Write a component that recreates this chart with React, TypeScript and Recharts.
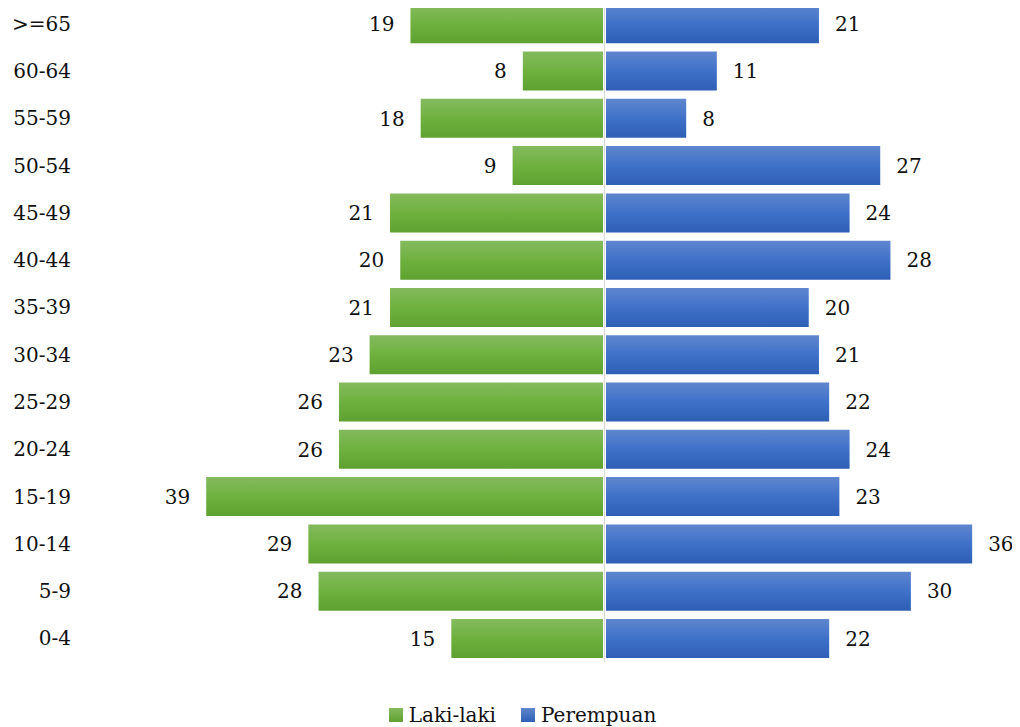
import React from "react";
import {
    Bar,
    BarChart,
    LabelList,
    Legend,
    ReferenceLine,
    XAxis,
    YAxis
} from "recharts";

// age groups, top of the pyramid first
const ageGroups = [
    ">=65", "60-64", "55-59", "50-54", "45-49", "40-44", "35-39",
    "30-34", "25-29", "20-24", "15-19", "10-14", "5-9", "0-4"
];
const lakiLaki = [19, 8, 18, 9, 21, 20, 21, 23, 26, 26, 39, 29, 28, 15];
const perempuan = [21, 11, 8, 27, 24, 28, 20, 21, 22, 24, 23, 36, 30, 22];
const xDomain = [-40, 40];

const FONT = "'DejaVu Serif', 'Liberation Serif', serif";
const TEXT = "#111111";

// male values go left of zero, so negate them for the chart
const data = ageGroups.map((age, i) => ({
    age,
    male: -lakiLaki[i],
    maleAbs: lakiLaki[i],
    female: perempuan[i],
    femaleAbs: perempuan[i]
}));

const makeLabel = (side: "left" | "right") => (props: any) => {
    const vb = props.viewBox ?? props;
    const x = Number(vb.x);
    const w = Number(vb.width);
    const y = Number(vb.y);
    const h = Number(vb.height);
    const left = Math.min(x, x + w);
    const right = Math.max(x, x + w);
    return (
        <text
            x={side === "left" ? left - 16 : right + 16}
            y={y + h / 2}
            dy="0.36em"
            textAnchor={side === "left" ? "end" : "start"}
            fontSize={20}
            fontFamily={FONT}
            fill={TEXT}
        >
            {props.value}
        </text>
    );
};

const legendItems = [
    { name: "Laki-laki", swatch: "linear-gradient(#84ba5e, #5fa130)" },
    { name: "Perempuan", swatch: "linear-gradient(#5f86ce, #2e5fb5)" }
];

const LegendBox = () => (
    <div
        style={{
            height: 65,
            boxSizing: "border-box",
            paddingTop: 40,
            paddingLeft: 32,
            display: "flex",
            justifyContent: "center",
            fontFamily: FONT,
            fontSize: 20,
            color: TEXT,
            lineHeight: "22px"
        }}
    >
        {legendItems.map((item, i) => (
            <div key={item.name} style={{ display: "flex", alignItems: "center", marginRight: i === 0 ? 25 : 0 }}>
                <span style={{ width: 14, height: 14, background: item.swatch, marginRight: 6, display: "inline-block" }} />
                <span>{item.name}</span>
            </div>
        ))}
    </div>
);

export default function App() {
    return (
        <div style={{ margin: "-8px 0 0 -8px", width: 1020, height: 727 }}>
            <BarChart
                width={1020}
                height={727}
                data={data}
                layout="vertical"
                stackOffset="sign"
                barCategoryGap="9%"
                margin={{ top: 0, right: 7, bottom: 0, left: 0 }}
            >
                <defs>
                    <linearGradient id="gradMale" x1="0" y1="0" x2="0" y2="1">
                        <stop offset="0%" stopColor="#84ba5e" />
                        <stop offset="50%" stopColor="#6fb13f" />
                        <stop offset="100%" stopColor="#5fa130" />
                    </linearGradient>
                    <linearGradient id="gradFemale" x1="0" y1="0" x2="0" y2="1">
                        <stop offset="0%" stopColor="#5f86ce" />
                        <stop offset="50%" stopColor="#3f71c9" />
                        <stop offset="100%" stopColor="#2e5fb5" />
                    </linearGradient>
                </defs>
                <XAxis type="number" domain={xDomain} hide />
                <YAxis
                    type="category"
                    dataKey="age"
                    width={196}
                    axisLine={false}
                    tickLine={false}
                    tickSize={0}
                    tickMargin={125}
                    interval={0}
                    tick={{ fontSize: 20, fontFamily: FONT, fill: TEXT }}
                />
                <Legend verticalAlign="bottom" content={<LegendBox />} />
                <Bar dataKey="male" stackId="a" fill="url(#gradMale)" isAnimationActive={false}>
                    <LabelList dataKey="maleAbs" content={makeLabel("left")} />
                </Bar>
                <Bar dataKey="female" stackId="a" fill="url(#gradFemale)" isAnimationActive={false}>
                    <LabelList dataKey="femaleAbs" content={makeLabel("right")} />
                </Bar>
                <ReferenceLine x={0} stroke="#ffffff" strokeWidth={3} />
                <ReferenceLine x={0} stroke="#d9d9d9" strokeWidth={1.2} />
            </BarChart>
        </div>
    );
}
